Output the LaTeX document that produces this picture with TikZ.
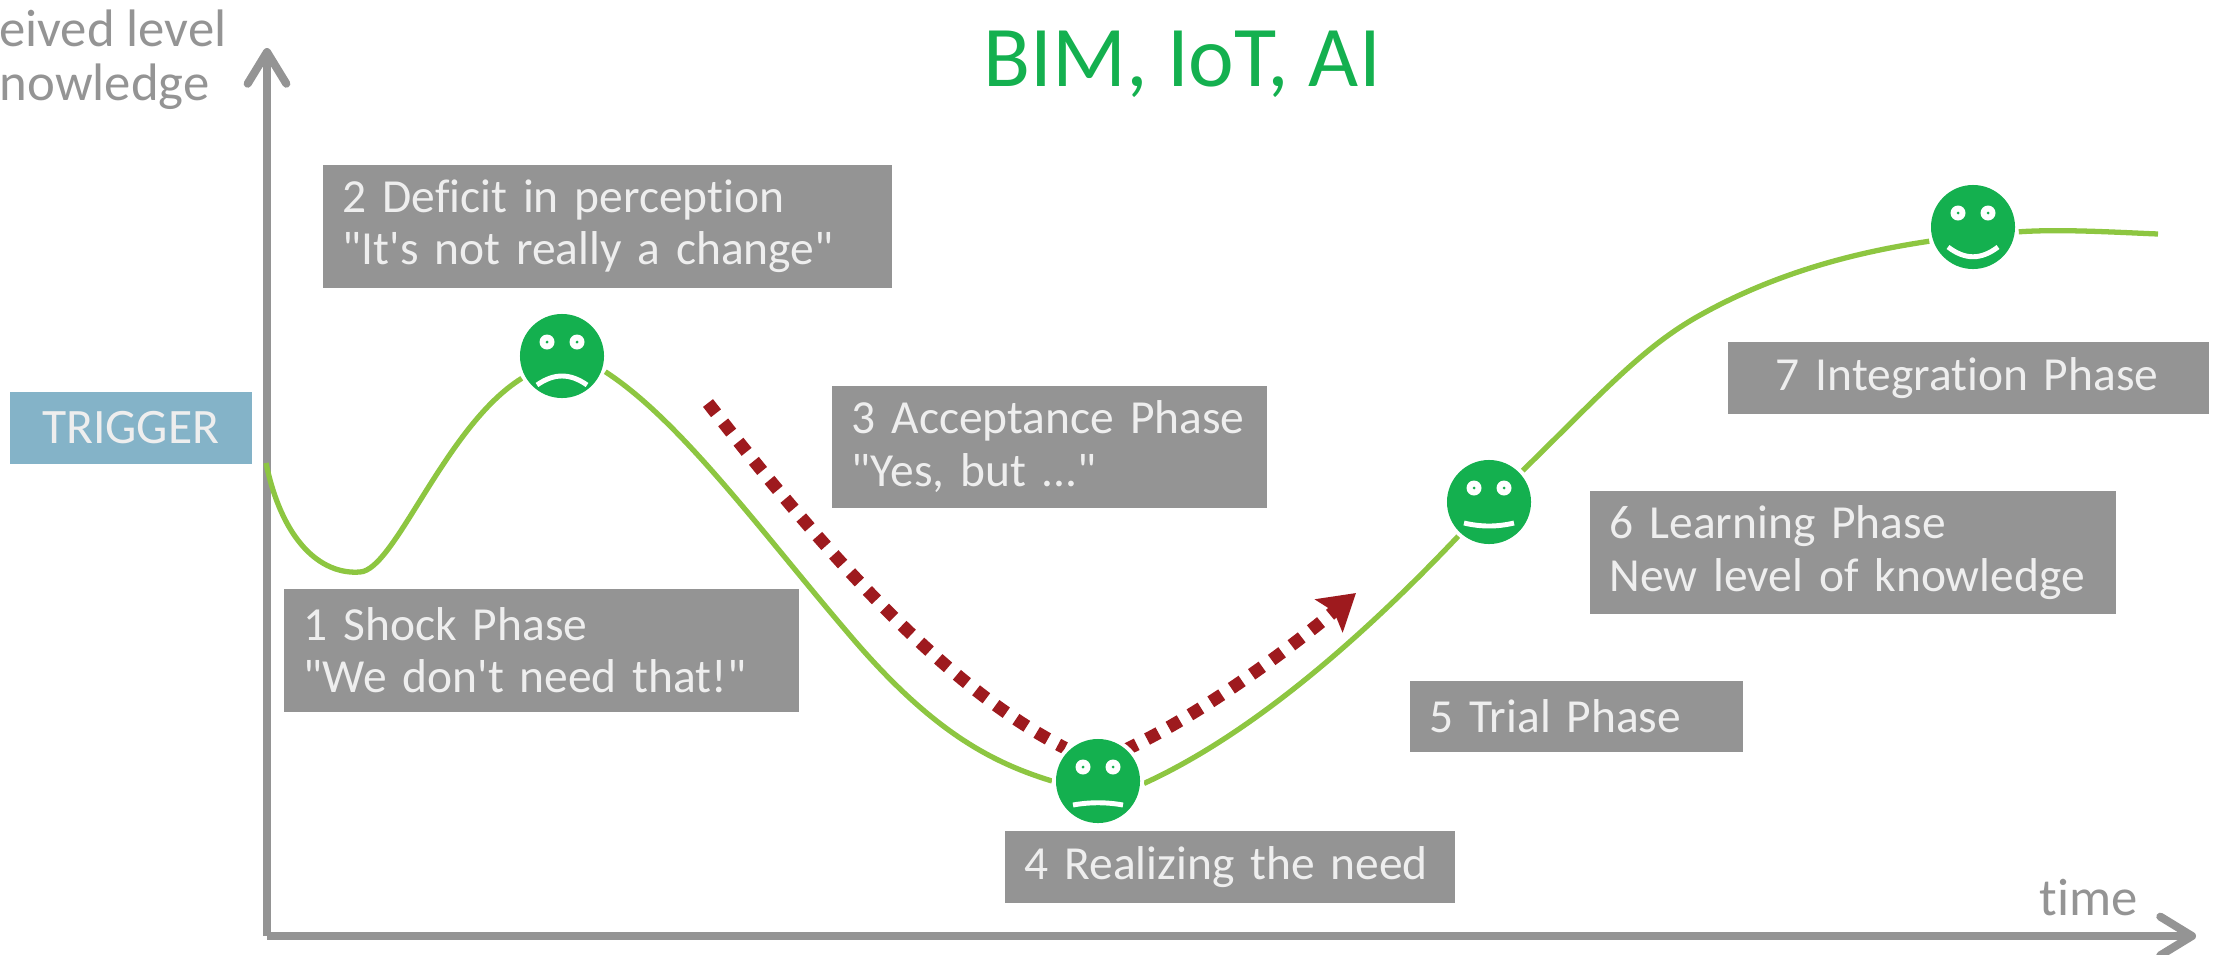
\documentclass[tikz,border=0pt]{standalone}
\usepackage{fontspec}
\setmainfont{Carlito}[Ligatures={TeXOff,NoCommon}]
\usetikzlibrary{arrows.meta}
\definecolor{axisgray}{HTML}{949494}
\definecolor{boxtext}{HTML}{EEEEEE}
\definecolor{facegreen}{HTML}{14B04F}
\definecolor{curvegreen}{HTML}{8DC641}
\definecolor{triggerblue}{HTML}{84B3C8}
\definecolor{darkred}{HTML}{9E1A1E}

\begin{document}
\begin{tikzpicture}[x=0.01cm,y=-0.01cm]
		\tikzset{phase box/.style={fill=#1,text=boxtext,anchor=north west,align=left,inner sep=0pt,inner xsep=0.2cm,font=\fontsize{13.5}{15}\selectfont}}
		\tikzset{phase box/.default=axisgray}
		\tikzset{axis/.style={draw=axisgray,line width=2.3pt,-{Straight Barb[length=9pt,width=11pt,round]}}}
		\tikzset{axis label/.style={text=axisgray,anchor=east,font=\fontsize{15}{17}\selectfont}}
		\tikzset{curve/.style={draw=curvegreen,line width=1.5pt}}
		\tikzset{trend/.style={draw=darkred,line width=3.6pt,dash pattern=on 3.7pt off 3.3pt,-{Stealth[length=10pt,width=12pt,inset=1.8pt]}}}
		\tikzset{face/.style={circle,fill=facegreen,minimum size=0.84cm,inner sep=0pt,outer sep=0.04cm}}
		\tikzset{eye/.style={fill=white,draw=none}}
		\tikzset{mouth/.style={draw=white,line width=1.4pt}}
		\useasboundingbox (0,0) rectangle (2215,954);
		
		\coordinate (origin) at (267,936);
		\coordinate (ytip) at (267,48);
		\coordinate (xtip) at (2196,936);
		\draw[axis] (origin) -- (ytip);
		\draw[axis] (origin) -- (xtip);
		\node[axis label] (ylabel1) at (239,28) {eived level};
		\node[axis label] (ylabel2) at (222,87) {nowledge};
		\node[axis label] (xlabel) at (2150,898) {time};
		\node[text=facegreen,font=\fontsize{24.6}{28}\selectfont] (title) at (1182,64) {BIM, IoT, AI};
		
		\coordinate (curvestart) at (266,463);
		\coordinate (curveend) at (2158,234);
		\coordinate (downstart) at (708,403);
		\coordinate (downend) at (1065,748);
		\coordinate (upstart) at (1125,750);
		\coordinate (uptip) at (1356,593);
		
		\node[face] (faceb) at (562,356) {};
		\node[face] (faced) at (1098,781) {};
		\node[face] (facef) at (1489,502) {};
		\node[face] (faceg) at (1973,227) {};
		
		\draw[curve] (curvestart) .. controls (282,540) and (320,575) .. (360,572) .. controls (395,570) and (445,426) .. (faceb.209);
		\draw[curve] (faceb.-20) .. controls (680,420) and (760,530) .. (848,633) .. controls (930,730) and (990,762) .. (faced.west);
		\draw[curve] (faced.-3) .. controls (1250,735) and (1360,640) .. (facef.228);
		\draw[curve] (facef.43) .. controls (1600,395) and (1640,350) .. (1695,318) .. controls (1770,275) and (1850,253) .. (faceg.198);
		\draw[curve] (faceg.-6) .. controls (2060,229) and (2110,232) .. (curveend);
		
		\draw[trend,-] (downstart) .. controls (830,560) and (950,690) .. (downend);
		\draw[trend] (upstart) .. controls (1210,710) and (1300,640) .. (uptip);
		\fill[white] (faced) circle (0.46cm);
		\fill[facegreen] (faced) circle (0.42cm);
		
		\foreach \f in {faceb,faced,facef,faceg}
		{
			\begin{scope}[shift={(\f)}]
				\fill[eye] (-15,-14) circle (0.075cm);
				\fill[eye] (15,-14) circle (0.075cm);
				\fill[facegreen] (-15,-14) circle (0.015cm);
				\fill[facegreen] (15,-14) circle (0.015cm);
			\end{scope}
		}
		\draw[mouth] ([shift={(-25,29)}]faceb.center) .. controls ([shift={(-8,17)}]faceb.center) and ([shift={(8,17)}]faceb.center) .. ([shift={(25,29)}]faceb.center);
		\draw[mouth] ([shift={(-25,24)}]faced.center) .. controls ([shift={(-8,21)}]faced.center) and ([shift={(8,21)}]faced.center) .. ([shift={(25,24)}]faced.center);
		\draw[mouth] ([shift={(-25,21)}]facef.center) .. controls ([shift={(-8,25)}]facef.center) and ([shift={(8,25)}]facef.center) .. ([shift={(25,21)}]facef.center);
		\draw[mouth] ([shift={(-25,20)}]faceg.center) .. controls ([shift={(-8,33)}]faceg.center) and ([shift={(8,33)}]faceg.center) .. ([shift={(25,20)}]faceg.center);
		
		\node[phase box=triggerblue,align=center,font=\fontsize{14.1}{15}\selectfont,inner xsep=0pt,text width=2.42cm,minimum height=0.72cm] (trigger) at (9,391) {TRIGGER};
		\node[phase box,text width=4.75cm,minimum height=1.23cm] (shock) at (283,588) {\mbox{1 Shock Phase}\\\mbox{"We don't need that!"}};
		\node[phase box,text width=5.29cm,minimum height=1.23cm] (deficit) at (322,164) {\mbox{2 Deficit in perception}\\\mbox{"It's not really a change"}};
		\node[phase box,text width=3.95cm,minimum height=1.22cm] (acceptance) at (831,385) {\mbox{3 Acceptance Phase}\\\mbox{"Yes, but ..."}};
		\node[phase box,text width=4.10cm,minimum height=0.72cm] (realizing) at (1004,830) {\mbox{4 Realizing the need}};
		\node[phase box,text width=2.93cm,minimum height=0.71cm] (trial) at (1409,680) {\mbox{5 Trial Phase}};
		\node[phase box,text width=4.86cm,minimum height=1.23cm] (learning) at (1589,490) {\mbox{6 Learning Phase}\\\mbox{New level of knowledge}};
		\node[phase box,inner xsep=0.48cm,text width=3.85cm,minimum height=0.72cm] (integration) at (1727,341) {\mbox{7 Integration Phase}};
\end{tikzpicture}
\end{document}
